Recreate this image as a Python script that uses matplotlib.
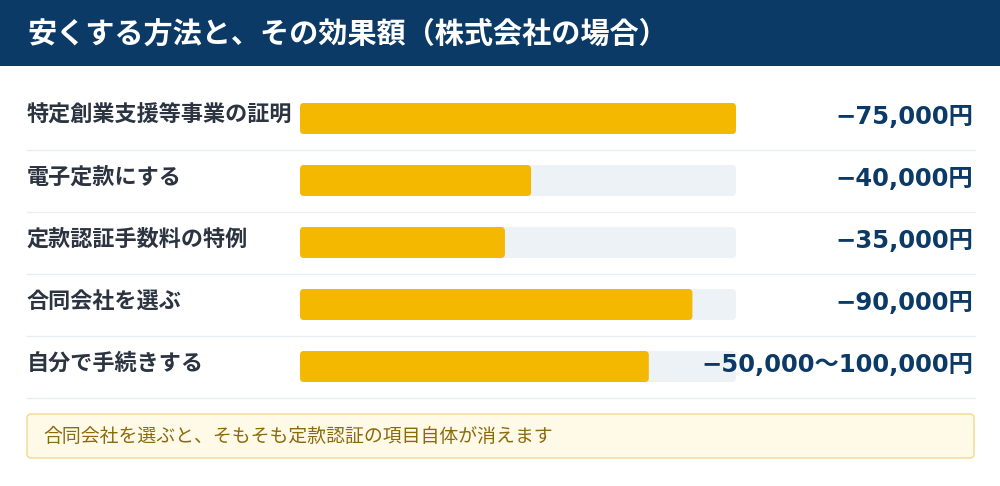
import matplotlib.pyplot as plt
from matplotlib.patches import FancyBboxPatch, Rectangle

plt.rcParams['font.family'] = ['Noto Sans CJK JP', 'DejaVu Sans']

title = "安くする方法と、その効果額（株式会社の場合）"
labels = ["特定創業支援等事業の証明", "電子定款にする", "定款認証手数料の特例",
          "合同会社を選ぶ", "自分で手続きする"]
amounts = ["−75,000円", "−40,000円", "−35,000円", "−90,000円", "−50,000〜100,000円"]
fill_pct = [100, 53, 47, 90, 80]
note = "合同会社を選ぶと、そもそも定款認証の項目自体が消えます"

navy = "#0b3a66"
gold = "#f4b800"
track = "#edf2f7"

fig = plt.figure(figsize=(10, 4.86), dpi=100)
ax = fig.add_axes([0, 0, 1, 1])
ax.set_xlim(0, 1000)
ax.set_ylim(486, 0)
ax.axis('off')

# header
ax.add_patch(Rectangle((0, 0), 1000, 66, color=navy, lw=0))
ax.text(27, 34, title, color='white', fontsize=21, fontweight='bold', va='center', ha='left')

bar_x, bar_w, bar_h = 300, 436, 31
for i, (lab, amt, pct) in enumerate(zip(labels, amounts, fill_pct)):
    top = 103 + 62 * i
    ax.text(27, top + 12, lab, color="#2b3440", fontsize=15.9, fontweight='bold', va='center', ha='left')
    ax.add_patch(FancyBboxPatch((bar_x, top), bar_w, bar_h,
                                boxstyle="round,pad=0,rounding_size=4", fc=track, ec='none'))
    ax.add_patch(FancyBboxPatch((bar_x, top), bar_w * pct / 100, bar_h,
                                boxstyle="round,pad=0,rounding_size=4", fc=gold, ec='none'))
    ax.text(973, top + 14, amt, color=navy, fontsize=17.5, fontweight='bold', va='center', ha='right',
            family=['DejaVu Sans', 'Noto Sans CJK JP'])
    ax.plot([27, 975], [top + 47, top + 47], color="#e6eef5", lw=1)

# note box
ax.add_patch(FancyBboxPatch((27, 414), 947, 44, boxstyle="round,pad=0,rounding_size=4",
                            fc="#fff9e8", ec="#f0da8c", lw=1))
ax.text(43, 436, note, color="#8a6a0a", fontsize=13.6, va='center', ha='left')

fig.savefig("out.png", dpi=100)
